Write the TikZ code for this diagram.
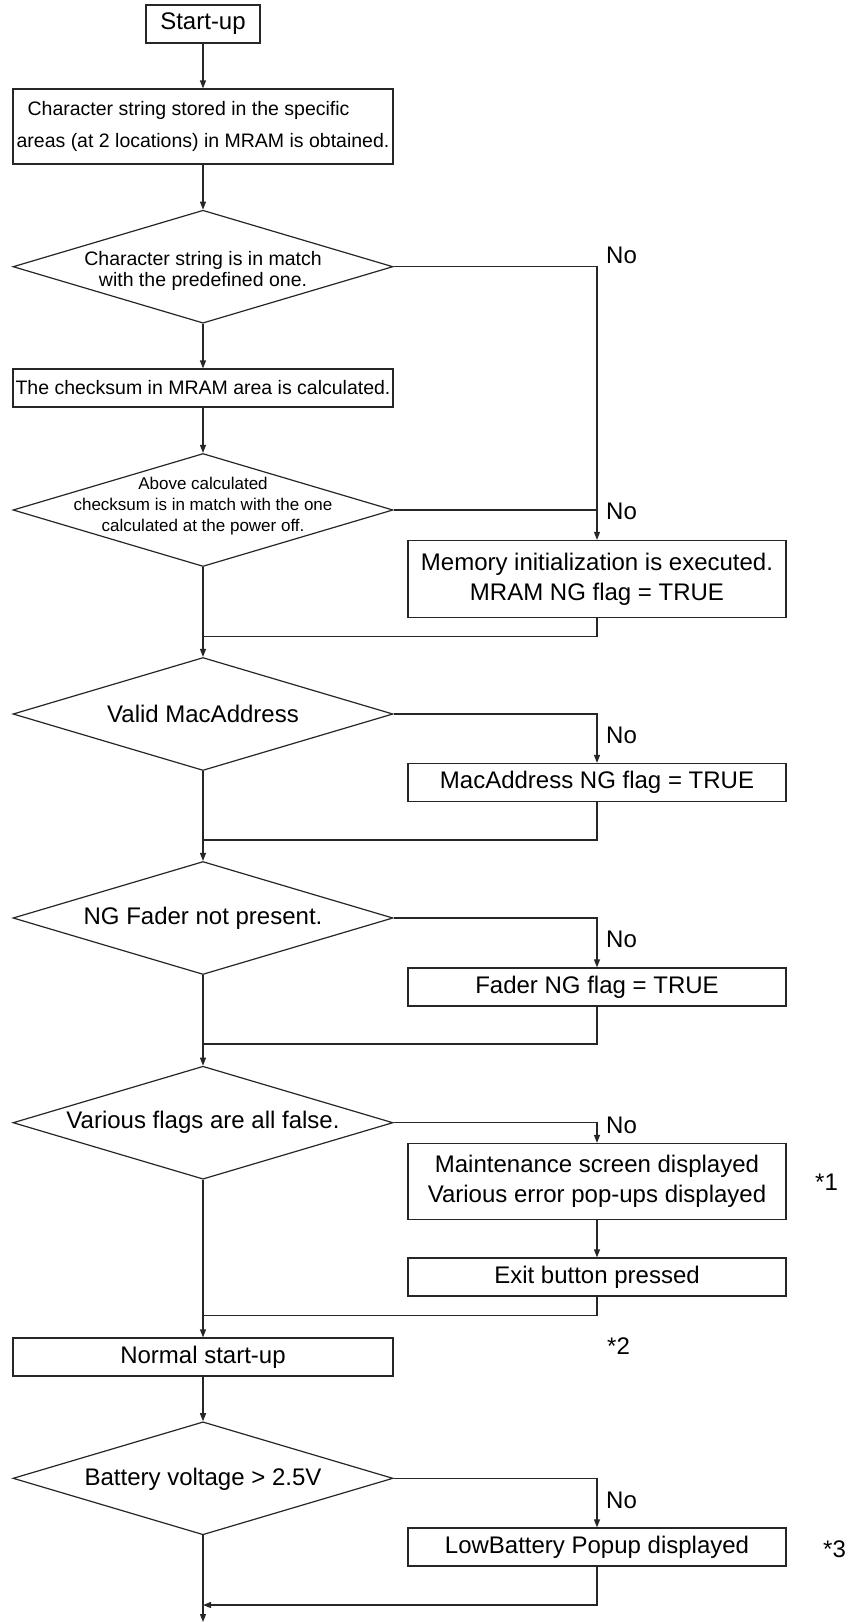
\documentclass[tikz,border=0pt]{standalone}
\usepackage{fontspec}
\setmainfont{Liberation Sans}
\usetikzlibrary{shapes.geometric,arrows.meta}
\begin{document}
\begin{tikzpicture}[x=1pt,y=-1pt,
  line/.style={line width=1.2pt, draw=black!85},
  arr/.style={line, -{Triangle[length=8pt,width=6pt]}},
  pbox/.style={draw=black!85, line width=1.2pt, rectangle, inner sep=0pt,
    minimum width=380pt, minimum height=38pt,
    font=\fontsize{24}{30}\selectfont, align=center},
  rbox/.style={pbox, minimum width=378pt},
  dec/.style={draw=black!85, line width=1.2pt, diamond, inner sep=0pt,
    minimum width=380pt, minimum height=113pt},
  dtext/.style={inner sep=0pt, align=center, font=\fontsize{24}{30}\selectfont},
  nolab/.style={inner sep=0pt, anchor=west, font=\fontsize{24}{30}\selectfont,
    text height=17.2pt, text depth=0pt},
]
\useasboundingbox[fill=white] (0,0) rectangle (847,1622);

% main column
\node[pbox, minimum width=114pt] (start) at (203,24) {Start-up};
\node[pbox, minimum height=75pt, align=left, font=\fontsize{19.5}{32}\selectfont]
  (char) at (203,126.5) {\hspace*{11pt}Character string stored in the specific\\areas (at 2 locations) in MRAM is obtained.};
\node[dec, label={[dtext, font=\fontsize{19.5}{21}\selectfont, yshift=-4pt]center:{Character string is in match\\with the predefined one.}}] (d1) at (203,266.7) {};
\node[pbox, font=\fontsize{19.5}{24}\selectfont] (chk) at (203,388) {The checksum in MRAM area is calculated.};
\node[dec, label={[dtext, font=\fontsize{17}{21}\selectfont, yshift=4pt]center:{Above calculated\\checksum is in match with the one\\calculated at the power off.}}] (d2) at (203,510) {};
\node[dec, label={[dtext]center:{Valid MacAddress}}] (d3) at (203,714) {};
\node[dec, label={[dtext]center:{NG Fader not present.}}] (d4) at (203,918) {};
\node[dec, label={[dtext]center:{Various flags are all false.}}] (d5) at (203,1122.7) {};
\node[pbox] (normal) at (203,1357) {Normal start-up};
\node[dec, label={[dtext, yshift=-1pt]center:{Battery voltage > 2.5V}}] (d6) at (203,1478.3) {};

% right column
\node[rbox, minimum height=77pt] (mem) at (597,579) {Memory initialization is executed.\\MRAM NG flag = TRUE};
\node[rbox] (mac) at (597,782.5) {MacAddress NG flag = TRUE};
\node[rbox] (fader) at (597,987) {Fader NG flag = TRUE};
\node[rbox, minimum height=76pt] (maint) at (597,1181.5) {Maintenance screen displayed\\Various error pop-ups displayed};
\node[rbox] (exit) at (597,1277) {Exit button pressed};
\node[rbox] (low) at (597,1547) {LowBattery Popup displayed};

% labels
\node[nolab] (no1) at (606,255) {No};
\node[nolab] (no2) at (606,511) {No};
\node[nolab] (no3) at (606,735) {No};
\node[nolab] (no4) at (606,939) {No};
\node[nolab] (no5) at (606,1125) {No};
\node[nolab] (no6) at (606,1500) {No};
\node[nolab] (n1) at (815,1182) {*1};
\node[nolab] (n2) at (607,1346) {*2};
\node[nolab] (n3) at (823,1549) {*3};

% merge coordinates
\coordinate (m1) at (203,636.7);
\coordinate (m2) at (203,840);
\coordinate (m3) at (203,1044);
\coordinate (m4) at (203,1315.7);
\coordinate (ret) at (203,1605);
\coordinate (end) at (203,1622);

% connectors
\draw[arr] (start) -- (char);
\draw[arr] (char) -- (d1);
\draw[arr] (d1) -- (chk);
\draw[arr] (chk) -- (d2);
\draw[arr] (d2) -- (d3);
\draw[arr] (d3) -- (d4);
\draw[arr] (d4) -- (d5);
\draw[arr] (d5) -- (normal);
\draw[arr] (normal) -- (d6);
\draw[arr] (d6) -- (end);

\draw[arr] (d1.east) -| (mem.north);
\draw[line] (d2.east) -- (d2.east -| mem.north);
\draw[line] (mem.south) |- (m1);
\draw[arr] (d3.east) -| (mac.north);
\draw[line] (mac.south) |- (m2);
\draw[arr] (d4.east) -| (fader.north);
\draw[line] (fader.south) |- (m3);
\draw[arr] (d5.east) -| (maint.north);
\draw[arr] (maint) -- (exit);
\draw[line] (exit.south) |- (m4);
\draw[arr] (d6.east) -| (low.north);
\draw[arr] (low.south) |- (ret);
\end{tikzpicture}
\end{document}
